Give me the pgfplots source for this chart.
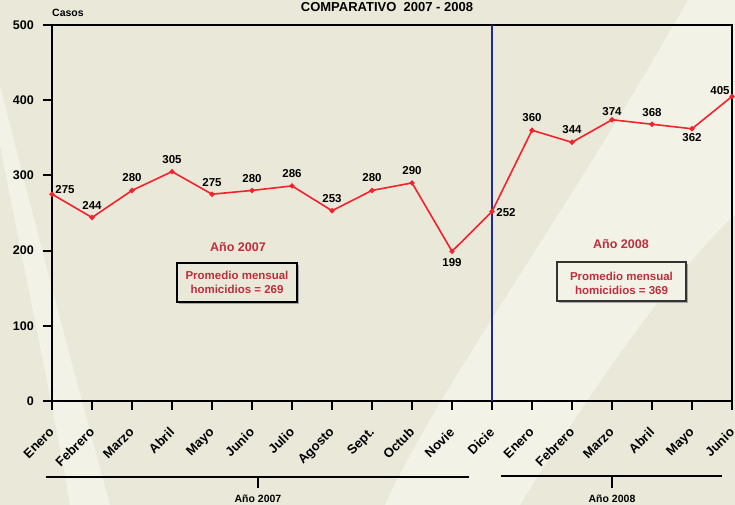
\documentclass[border=0pt]{standalone}
\usepackage{fontspec}
\setmainfont{Liberation Sans}
\usepackage{pgfplots}
\usepackage{pgfplotstable}
\pgfplotsset{compat=1.18}
\definecolor{bg}{HTML}{EAE8D8}
\definecolor{bglight}{HTML}{F3F2E7}
\definecolor{linered}{HTML}{F5222D}
\definecolor{txtred}{HTML}{BE2E3C}
\definecolor{vblue}{HTML}{1F2A9A}
\newcommand\fb[1]{\fontsize{#1bp}{#1bp}\selectfont\bfseries}

\pgfplotstableread{
x y dx dy
0 275 13 5
1 244 0 12
2 280 0 12.5
3 305 0 12
4 275 0 12
5 280 0 12
6 286 0 12
7 253 0 12
8 280 0 12.5
9 290 0 12
10 199 0 -11
11 252 14 -1
12 360 0 12.5
13 344 0 12.5
14 374 0 8.5
15 368 0 12
16 362 0 -9
17 405 -12 5.5
}\casos

\begin{document}
\begin{tikzpicture}[x=1bp,y=1bp]
\useasboundingbox (0,0) rectangle (735,505);
\fill[bg] (0,0) rectangle (735,505);
\fill[bglight] (688,505) .. controls (560,280) and (440,120) .. (385,0) -- (520,0) .. controls (600,130) and (680,240) .. (735,290) -- (735,505) -- cycle;
\fill[bglight] (0,360) .. controls (25,230) and (55,90) .. (70,0) -- (110,0) .. controls (80,110) and (40,260) .. (0,420) -- cycle;

\begin{axis}[
  at={(52bp,104bp)}, anchor=south west,
  scale only axis, width=680bp, height=376bp,
  xmin=0, xmax=17, ymin=0, ymax=500,
  axis line style={black, line width=2bp},
  xtick={0,...,17},
  xticklabels={Enero,Febrero,Marzo,Abril,Mayo,Junio,Julio,Agosto,Sept.,Octub,Novie,Dicie,Enero,Febrero,Marzo,Abril,Mayo,Junio},
  ytick={0,100,200,300,400,500},
  xtick pos=bottom, ytick pos=left,
  tick align=outside, major tick length=9bp,
  tick style={black, line width=2bp},
  xticklabel style={xshift=-3.5bp, yshift=-15bp, rotate=45, anchor=north east, inner sep=1bp, font=\fb{13}},
  yticklabel style={font=\fb{12.5}, inner sep=1bp, xshift=-8bp},
  /pgf/number format/assume math mode=true,
  clip=false,
]
\draw[vblue, line width=1.3bp] (axis cs:11,0) -- (axis cs:11,500);
\addplot[linered, line width=1.6bp, mark=*, mark size=1.7bp,
  mark options={solid, fill=linered, draw=linered},
  nodes near coords,
  point meta=explicit symbolic,
  visualization depends on={\thisrow{dx}\as\myDX},
  visualization depends on={\thisrow{dy}\as\myDY},
  every node near coord/.append style={anchor=center, xshift=\myDX bp, yshift=\myDY bp, font=\fb{11.5}, text=black, inner sep=0pt},
] table[x=x, y=y, meta=y] {\casos};
\end{axis}

% titles
\node[font=\fb{13}] at (387,497.5) {COMPARATIVO\ \ 2007 - 2008};
\node[font=\fb{10.5}] at (68,492) {Casos};

% annotations
\node[font=\fb{12.5}, text=txtred] at (238,258) {Año 2007};
\node[font=\fb{12.5}, text=txtred] at (621,261) {Año 2008};
\fill[gray!70] (179,201) rectangle (299,240);
\filldraw[fill=bg, draw=black, line width=1.2bp] (177,203) rectangle (297,242);
\node[font=\fb{11.5}, text=txtred, align=center] at (237,223) {Promedio mensual\\[2.5bp]homicidios = 269};
\fill[gray!70] (559,202) rectangle (688,241);
\filldraw[fill=bglight, draw=black!80, line width=1.2bp] (557,204) rectangle (686,243);
\node[font=\fb{11.5}, text=txtred, align=center] at (621.5,222) {Promedio mensual\\[2.5bp]homicidios = 369};

% year brackets
\draw[black, line width=2.5bp] (46,28) -- (469,28);
\draw[black, line width=2.5bp] (258,28) -- (258,17);
\node[font=\fb{10.5}] at (258,6) {Año 2007};
\draw[black, line width=2.5bp] (501,29) -- (722,29);
\draw[black, line width=2.5bp] (612,29) -- (612,17);
\node[font=\fb{10.5}] at (612,6) {Año 2008};
\end{tikzpicture}
\end{document}
